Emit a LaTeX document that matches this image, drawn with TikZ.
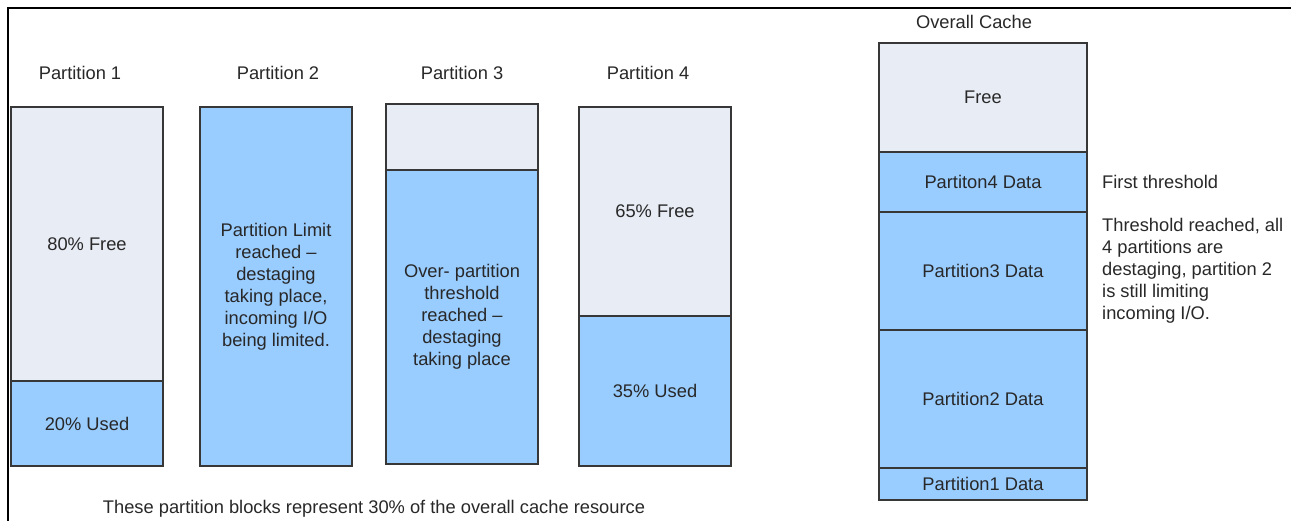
\documentclass[tikz,border=0pt]{standalone}
\usepackage{fontspec}
\setmainfont{Liberation Sans}
\usetikzlibrary{positioning}
\definecolor{freecol}{RGB}{232,236,245}
\definecolor{usedcol}{RGB}{153,204,255}
\definecolor{edgecol}{RGB}{55,55,55}
\definecolor{txtcol}{RGB}{40,40,40}

\begin{document}
\begin{tikzpicture}
[x=1pt,y=-1pt,
 every node/.style={font=\fontsize{18.3}{22}\selectfont,text=txtcol},
 block/.style={draw=edgecol,line width=1.6pt,outer sep=0pt,inner sep=0pt,
   minimum width=152pt,align=center},
 free/.style={block,fill=freecol},
 used/.style={block,fill=usedcol},
 title/.style={inner sep=0pt},
 note/.style={inner sep=0pt,align=left}]
\useasboundingbox (0,0) rectangle (1291,521);
\draw[line width=1.6pt] (8,521) -- (8,8) -- (1291,8);
% partition 1
\node[free,minimum height=274pt,anchor=north west](p1free) at (11,107){80\% Free};
\node[used,minimum height=85pt,below=0pt of p1free](p1used){20\% Used};
\node[title,above=27pt of p1free,xshift=-7pt](p1title){Partition 1};
% partition 2
\node[used,minimum height=359pt,anchor=north west](p2used) at (200,107)
  {Partition Limit\\reached --\\destaging\\taking place,\\incoming I/O\\being limited.};
\node[title,above=27pt of p2used,xshift=2pt](p2title){Partition 2};
% partition 3
\node[free,minimum height=66pt,anchor=north west](p3free) at (386,104){};
\node[used,minimum height=294pt,below=0pt of p3free](p3used)
  {Over- partition\\threshold\\reached --\\destaging\\taking place};
\node[title,above=24pt of p3free](p3title){Partition 3};
% partition 4
\node[free,minimum height=209pt,anchor=north west](p4free) at (579,107){65\% Free};
\node[used,minimum height=150pt,below=0pt of p4free](p4used){35\% Used};
\node[title,above=27pt of p4free,xshift=-7pt](p4title){Partition 4};
\node(caption) at (374,509){These partition blocks represent 30\% of the overall cache resource};
% overall cache
\node[free,minimum width=208pt,minimum height=109pt,anchor=north west](ofree) at (879,43){Free};
\node[used,minimum width=208pt,minimum height=60pt,below=0pt of ofree](p4data){Partiton4 Data};
\node[used,minimum width=208pt,minimum height=118pt,below=0pt of p4data](p3data){Partition3 Data};
\node[used,minimum width=208pt,minimum height=138pt,below=0pt of p3data](p2data){Partition2 Data};
\node[used,minimum width=208pt,minimum height=32pt,below=0pt of p2data](p1data){Partition1 Data};
\node[title,above=14pt of ofree,xshift=-9pt](otitle){Overall Cache};
\node[note,right=15pt of p4data](first){First threshold};
\node[note,right=15pt of p3data](reached)
  {Threshold reached, all\\4 partitions are\\destaging, partition 2\\is still limiting\\incoming I/O.};
\end{tikzpicture}
\end{document}
